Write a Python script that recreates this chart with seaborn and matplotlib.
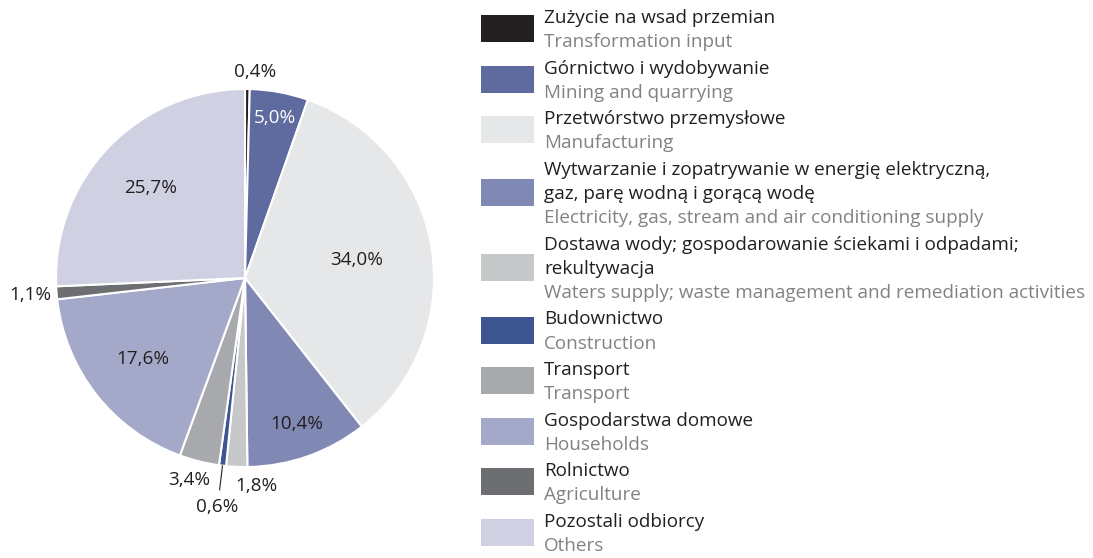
import numpy as np
import matplotlib
matplotlib.use("Agg")
import matplotlib.pyplot as plt
import seaborn as sns
from matplotlib.patches import Rectangle

sns.set_style("white")
plt.rcParams["font.family"] = ["Open Sans", "DejaVu Sans"]

# data
labels_pl = [
    "Zużycie na wsad przemian",
    "Górnictwo i wydobywanie",
    "Przetwórstwo przemysłowe",
    "Wytwarzanie i zopatrywanie w energię elektryczną,\ngaz, parę wodną i gorącą wodę",
    "Dostawa wody; gospodarowanie ściekami i odpadami;\nrekultywacja",
    "Budownictwo",
    "Transport",
    "Gospodarstwa domowe",
    "Rolnictwo",
    "Pozostali odbiorcy",
]
labels_en = [
    "Transformation input",
    "Mining and quarrying",
    "Manufacturing",
    "Electricity, gas, stream and air conditioning supply",
    "Waters supply; waste management and remediation activities",
    "Construction",
    "Transport",
    "Households",
    "Agriculture",
    "Others",
]
shares = [0.4, 5.0, 34.0, 10.4, 1.8, 0.6, 3.4, 17.6, 1.1, 25.7]
colors = ["#231f20", "#5f6b9f", "#e6e7e8", "#8088b4", "#c7c8ca",
          "#3d5591", "#a7a9ac", "#a5a9c9", "#6d6e71", "#cfd1e3"]

# label placement: radius (pie units) and text colour per slice
label_r = [1.09, 0.86, 0.60, 0.82, 1.10, 1.22, 1.10, 0.69, 1.13, 0.69]
label_dx = [0.04, 0.0, 0.0, 0.0, 0.11, 0.0, -0.03, 0.0, -0.01, 0.0]
label_c = ["#231f20", "white"] + ["#231f20"] * 8

FS = 13.6
W, H = 1093, 558
fig = plt.figure(figsize=(W / 100, H / 100), dpi=100)

R = 189
cx, cy = 245, 558 - 278
lim = 1.3
half = lim * R
ax = fig.add_axes([(cx - half) / W, (cy - half) / H, 2 * half / W, 2 * half / H])
wedges, _ = ax.pie(shares, colors=colors, startangle=90, counterclock=False,
                   radius=1, wedgeprops=dict(edgecolor="white", linewidth=1.5))
ax.set_xlim(-lim, lim)
ax.set_ylim(-lim, lim)
ax.set_aspect("equal")
ax.axis("off")

for i, w in enumerate(wedges):
    ang = np.deg2rad((w.theta1 + w.theta2) / 2)
    r = label_r[i]
    x = r * np.cos(ang) + label_dx[i]
    y = r * np.sin(ang)
    txt = f"{shares[i]:.1f}%".replace(".", ",")
    ax.text(x, y, txt, ha="center", va="center", fontsize=FS,
            color=label_c[i], clip_on=False)
    if i == 5:
        ax.plot([1.0 * np.cos(ang), 1.13 * np.cos(ang)],
                [1.0 * np.sin(ang), 1.13 * np.sin(ang)],
                color="#231f20", lw=0.8)

# legend
px0, pw, ph = 481, 53, 27
tx = 544
line_step = 24.2
item_step = 26.4
y = 18
for i in range(len(shares)):
    pl_lines = labels_pl[i].split("\n")
    n = len(pl_lines) + 1
    mid = y + (n - 1) * line_step / 2 - 1.5
    fig.add_artist(Rectangle((px0 / W, 1 - (mid + ph / 2) / H), pw / W, ph / H,
                             transform=fig.transFigure, facecolor=colors[i],
                             edgecolor="none"))
    for j, t in enumerate(pl_lines):
        fig.text(tx / W, 1 - (y + j * line_step) / H, t, fontsize=FS,
                 color="#231f20", va="center", ha="left")
    fig.text(tx / W, 1 - (y + (n - 1) * line_step) / H, labels_en[i],
             fontsize=FS, color="#808285", va="center", ha="left")
    y += (n - 1) * line_step + item_step

fig.savefig("out.png", dpi=100)
